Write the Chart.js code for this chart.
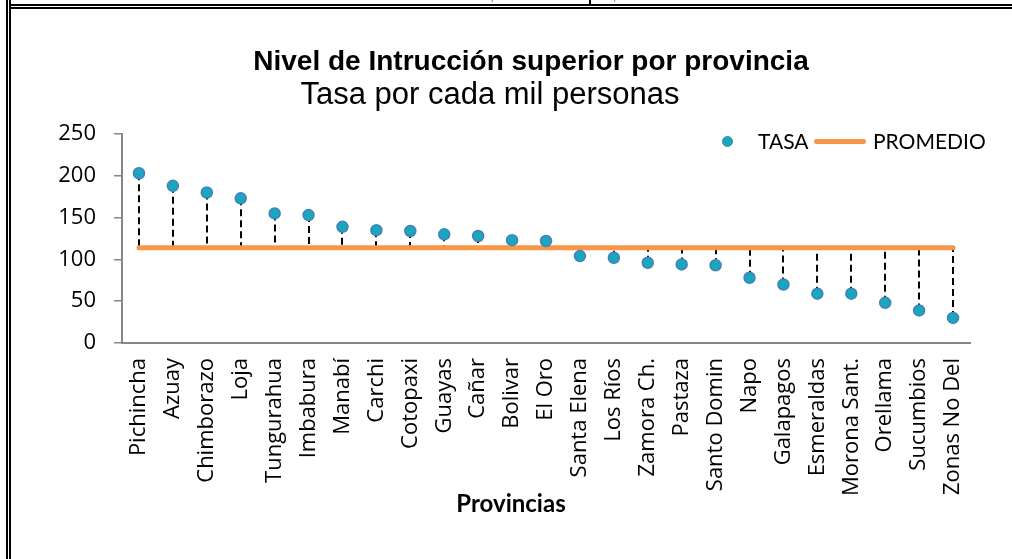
<!DOCTYPE html>
<html lang="es">
<head>
<meta charset="utf-8">
<title>Nivel de Instrucción superior por provincia</title>
<script src="https://cdn.jsdelivr.net/npm/chart.js@4.4.1/dist/chart.umd.min.js"></script>
<style>
    html, body { margin: 0; padding: 0; background: #fff; }
    body { width: 1012px; height: 559px; position: relative; overflow: hidden; }
    #grafico { position: absolute; left: 0; top: 0; }
    .marco { position: absolute; background: #000; }
    .cabecera { position: absolute; top: -14px; font: 14px "Liberation Sans", Arial, sans-serif; color: #9a9a9a; white-space: nowrap; }
    .texto { position: absolute; transform: translateX(-50%); white-space: nowrap; color: #000; }
    #titulo { left: 531px; top: 45px; line-height: 34px; font: bold 28px "Liberation Sans", Arial, sans-serif; }
    #subtitulo { left: 490px; top: 76px; line-height: 38px; font: 31px "Liberation Sans", Arial, sans-serif; }
    #tituloX { left: 511px; top: 488px; line-height: 30px; font: bold 24px Lato, sans-serif; }
    #leyenda { position: absolute; top: 128px; left: 0; width: 1012px; height: 28px; font: 21px Lato, "Open Sans", sans-serif; color: #000; }
    #leyenda span { position: absolute; top: 0; line-height: 26px; }
    .punto { position: absolute; width: 9px; height: 9px; border-radius: 50%; background: #17a8bd; border: 1.5px solid #4a7ebb; }
    .raya { position: absolute; height: 5px; border-radius: 3px; background: #f79646; }
</style>
</head>
<body>
<canvas id="grafico" width="1012" height="559"></canvas>

<!-- restos de la tabla de arriba y el marco doble -->
<div class="cabecera" style="left:300px">Tasa de nivel de instrucción superior</div>
<div class="cabecera" style="left:613px">por cada mil</div>
<div class="marco" style="left:589px; top:0; width:2px; height:4px"></div>
<div class="marco" style="left:6px; top:0; width:2px; height:559px"></div>
<div class="marco" style="left:9px; top:0; width:2px; height:559px"></div>
<div class="marco" style="left:9px; top:4px; width:1003px; height:2px"></div>
<div class="marco" style="left:11px; top:7px; width:1001px; height:2px"></div>

<div id="titulo" class="texto">Nivel de Intrucción superior por provincia</div>
<div id="subtitulo" class="texto">Tasa por cada mil personas</div>
<div id="tituloX" class="texto">Provincias</div>

<div id="leyenda">
    <div class="punto" style="left:722px; top:8px"></div>
    <span style="left:758px">TASA</span>
    <div class="raya" style="left:814px; top:11px; width:52px"></div>
    <span style="left:873px">PROMEDIO</span>
</div>

<script>
// --- DATOS ---
const provincias = ['Pichincha', 'Azuay', 'Chimborazo', 'Loja', 'Tungurahua', 'Imbabura', 'Manabí', 'Carchi',
    'Cotopaxi', 'Guayas', 'Cañar', 'Bolivar', 'El Oro', 'Santa Elena', 'Los Ríos', 'Zamora Ch.', 'Pastaza',
    'Santo Domin', 'Napo', 'Galapagos', 'Esmeraldas', 'Morona Sant.', 'Orellama', 'Sucumbios', 'Zonas No Del'];

const tasa = [203, 188, 180, 173, 155, 153, 139, 135, 134, 130, 128, 123, 122,
    104, 102, 96, 94, 93, 78, 70, 59, 59, 48, 39, 30];

const promedio = [114, 114, 114, 114, 114, 114, 114, 114, 114, 114, 114, 114, 114,
    114, 114, 114, 114, 114, 114, 114, 114, 114, 114, 114, 114];

const ejeY = { min: 0, max: 250, paso: 50 };

const grisEje = '#868686';

// líneas punteadas entre cada punto y el promedio
const lineasCaida = {
    id: 'lineasCaida',
    beforeDatasetsDraw(chart) {
        const { ctx, scales: { x, y } } = chart;
        ctx.save();
        ctx.strokeStyle = '#000';
        ctx.lineWidth = 2;
        ctx.setLineDash([7, 4]);
        tasa.forEach((valor, i) => {
            const px = Math.round(x.getPixelForValue(i));
            ctx.beginPath();
            ctx.moveTo(px, y.getPixelForValue(valor));
            ctx.lineTo(px, y.getPixelForValue(promedio[i]));
            ctx.stroke();
        });
        ctx.restore();
    }
};

function renderizarGrafico() {
    const ctx = document.getElementById('grafico').getContext('2d');
    new Chart(ctx, {
        type: 'line',
        data: {
            labels: provincias,
            datasets: [{
                label: 'TASA',
                data: tasa,
                showLine: false,
                pointRadius: 5.5,
                pointHoverRadius: 5.5,
                pointBackgroundColor: '#17a8bd',
                pointBorderColor: '#4a7ebb',
                pointBorderWidth: 1.5
            }, {
                label: 'PROMEDIO',
                data: promedio,
                borderColor: '#f79646',
                borderWidth: 5,
                borderCapStyle: 'round',
                pointRadius: 0
            }]
        },
        options: {
            responsive: false,
            animation: false,
            // el título, la leyenda y el título del eje van en HTML
            layout: { padding: { left: 0, right: 42, top: 134, bottom: 0 } },
            plugins: {
                legend: { display: false },
                tooltip: { enabled: false }
            },
            scales: {
                x: {
                    offset: true,
                    grid: { display: false },
                    border: { color: grisEje, width: 2 },
                    ticks: {
                        autoSkip: false,
                        minRotation: 90,
                        maxRotation: 90,
                        padding: 7,
                        color: '#000',
                        font: { family: '"Open Sans", sans-serif', size: 22 }
                    },
                    afterFit(escala) { escala.height = 216; }
                },
                y: {
                    min: ejeY.min,
                    max: ejeY.max,
                    grid: { drawOnChartArea: false, color: grisEje, lineWidth: 1.5, tickLength: 8 },
                    border: { color: grisEje, width: 2 },
                    ticks: {
                        stepSize: ejeY.paso,
                        padding: 18,
                        color: '#000',
                        font: { family: '"Open Sans", sans-serif', size: 22 }
                    },
                    afterFit(escala) { escala.width = 122; }
                }
            }
        },
        plugins: [lineasCaida]
    });
}

document.addEventListener('DOMContentLoaded', renderizarGrafico);
</script>
</body>
</html>
